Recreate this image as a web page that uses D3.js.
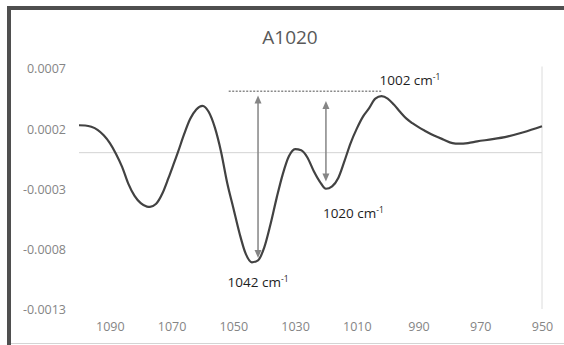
<!DOCTYPE html>
<html>
<head>
<meta charset="utf-8">
<script src="https://cdn.jsdelivr.net/npm/d3@7"></script>
<style>
  html, body { margin: 0; padding: 0; background: #fff; }
  svg { display: block; }
</style>
</head>
<body>
<svg id="chart" width="564" height="345"></svg>
<script>
// Second-derivative spectrum, 1100–950 cm-1
const title = "A1020";

const wavenumbers = [1100, 1098, 1096, 1094, 1092, 1090, 1088, 1086, 1084, 1082,
                     1080, 1078, 1077, 1075, 1073, 1071, 1069, 1068, 1066, 1064,
                     1062, 1060, 1058, 1056, 1054, 1052, 1050, 1048, 1046, 1044,
                     1042, 1040, 1038, 1036, 1034, 1032, 1030, 1028, 1026, 1024,
                     1022, 1020, 1018, 1016, 1014, 1012, 1010, 1008, 1006, 1004,
                     1002, 1000, 998, 996, 994, 992, 990, 988, 985, 982,
                     979, 977, 974, 971, 966, 961, 956, 950];

const absorbance = [0.000228, 0.000226, 0.000215, 0.00019, 0.000145, 0.00008, -0.00001, -0.00012, -0.00026, -0.00036,
                    -0.00042, -0.000448, -0.00045, -0.000425, -0.00034, -0.00021, -0.00007, 0.0, 0.00015, 0.00028,
                    0.00036, 0.00039, 0.00034, 0.00021, 0.00001, -0.00025, -0.00046, -0.00067, -0.00084, -0.000912,
                    -0.000895, -0.00079, -0.0006, -0.00038, -0.00018, -0.00003, 0.00003, 0.00002, -0.00004, -0.00015,
                    -0.00024, -0.0003, -0.00028, -0.00021, -0.00007, 0.00008, 0.0002, 0.0003, 0.00037, 0.00045,
                    0.00047, 0.00045, 0.0004, 0.00034, 0.000285, 0.000245, 0.000212, 0.000183, 0.000143, 0.00011,
                    0.00008, 0.000075, 0.00008, 0.000094, 0.000112, 0.000136, 0.00017, 0.00022];

const xTickValues = [1090, 1070, 1050, 1030, 1010, 990, 970, 950];
const xTickLabels = ["1090", "1070", "1050", "1030", "1010", "990", "970", "950"];
const yTickValues = [0.0007, 0.0002, -0.0003, -0.0008, -0.0013];
const yTickLabels = ["0.0007", "0.0002", "-0.0003", "-0.0008", "-0.0013"];

// Marked bands
const bandPositions = [1042, 1020, 1002];
const bandLabels = ["1042 cm", "1020 cm", "1002 cm"];
const referenceLevel = 0.00051;          // dashed reference drawn at the 1002 band height
const referenceStart = 1051.5;
const arrowTops = [0.000475, 0.00043];
const arrowBottoms = [-0.000875, -0.00024];

const svg = d3.select("#chart");
const font = "'Open Sans', 'Liberation Sans', sans-serif";

// Frame
svg.append("rect").attr("x", 0).attr("y", 0).attr("width", 564).attr("height", 345).attr("fill", "#fff");
svg.append("line").attr("x1", 7).attr("x2", 564).attr("y1", 343.5).attr("y2", 343.5)
  .attr("stroke", "#d4d4d4").attr("stroke-width", 1);
svg.append("rect").attr("x", 7).attr("y", 6).attr("width", 557).attr("height", 4).attr("fill", "#4f4f4f");
svg.append("rect").attr("x", 7).attr("y", 6).attr("width", 4).attr("height", 339).attr("fill", "#4f4f4f");

const x = d3.scaleLinear().domain([1100, 950]).range([79, 542]);
const y = d3.scaleLinear().domain([-0.0013, 0.0007]).range([309, 68.5]);

// Title
svg.append("text")
  .attr("x", 290).attr("y", 43.5)
  .attr("text-anchor", "middle")
  .attr("font-family", font).attr("font-size", 19)
  .attr("fill", "#595959")
  .text(title);

// Zero line and vertical axis (reversed x puts it at 950)
svg.append("line")
  .attr("x1", x(1100)).attr("x2", x(950)).attr("y1", y(0)).attr("y2", y(0))
  .attr("stroke", "#d3d3d3").attr("stroke-width", 1);
svg.append("line")
  .attr("x1", x(950)).attr("x2", x(950)).attr("y1", y(0.0007) - 2).attr("y2", y(-0.0013))
  .attr("stroke", "#dcdcdc").attr("stroke-width", 1);

// Axis labels
const xAxis = d3.axisBottom(x)
  .tickValues(xTickValues)
  .tickSize(0)
  .tickPadding(0)
  .tickFormat((d, i) => xTickLabels[i]);
const gx = svg.append("g").attr("transform", "translate(0,327)").call(xAxis);
gx.select(".domain").remove();
gx.selectAll("text")
  .attr("y", 0).attr("dy", "0.35em")
  .attr("font-family", font).attr("font-size", 12.5)
  .attr("fill", "#858585");

const yAxis = d3.axisLeft(y)
  .tickValues(yTickValues)
  .tickSize(0)
  .tickPadding(0)
  .tickFormat((d, i) => yTickLabels[i]);
const gy = svg.append("g").attr("transform", "translate(66,0)").call(yAxis);
gy.select(".domain").remove();
gy.selectAll("text")
  .attr("x", 0).attr("dy", "0.35em")
  .attr("font-family", font).attr("font-size", 12.5)
  .attr("fill", "#858585");

// Spectrum
const line = d3.line()
  .x(d => x(d[0]))
  .y(d => y(d[1]))
  .curve(d3.curveMonotoneX);

svg.append("path")
  .datum(d3.zip(wavenumbers, absorbance))
  .attr("d", line)
  .attr("fill", "none")
  .attr("stroke", "#424242")
  .attr("stroke-width", 2.2)
  .attr("stroke-linejoin", "round");

// Dashed reference line
svg.append("line")
  .attr("x1", x(referenceStart)).attr("x2", x(bandPositions[2]))
  .attr("y1", y(referenceLevel)).attr("y2", y(referenceLevel))
  .attr("stroke", "#8a8a8a").attr("stroke-width", 1.5)
  .attr("stroke-dasharray", "2,1.5");

// Double-headed arrows
const arrowColor = "#858585";
const headLen = 8, headHalf = 3.5;
[0, 1].forEach(i => {
  const ax = x(bandPositions[i]);
  const yt = y(arrowTops[i]);
  const yb = y(arrowBottoms[i]);
  svg.append("line")
    .attr("x1", ax).attr("x2", ax).attr("y1", yt + headLen - 1).attr("y2", yb - headLen + 1)
    .attr("stroke", arrowColor).attr("stroke-width", 1.5);
  svg.append("path")
    .attr("d", `M${ax},${yt} L${ax - headHalf},${yt + headLen} L${ax + headHalf},${yt + headLen} Z`)
    .attr("fill", arrowColor);
  svg.append("path")
    .attr("d", `M${ax},${yb} L${ax - headHalf},${yb - headLen} L${ax + headHalf},${yb - headLen} Z`)
    .attr("fill", arrowColor);
});

// Band labels
function bandLabel(text, px, py, anchor) {
  const t = svg.append("text")
    .attr("x", px).attr("y", py)
    .attr("text-anchor", anchor)
    .attr("font-family", font).attr("font-size", 13.5)
    .attr("fill", "#1e1e1e");
  t.append("tspan").text(text);
  t.append("tspan")
    .attr("font-size", 8.5)
    .attr("dy", -5)
    .text("-1");
}
bandLabel(bandLabels[0], x(bandPositions[0]), 287, "middle");
bandLabel(bandLabels[1], x(bandPositions[1]) - 3, 218, "start");
bandLabel(bandLabels[2], x(bandPositions[2]) - 2, 85, "start");
</script>
</body>
</html>
